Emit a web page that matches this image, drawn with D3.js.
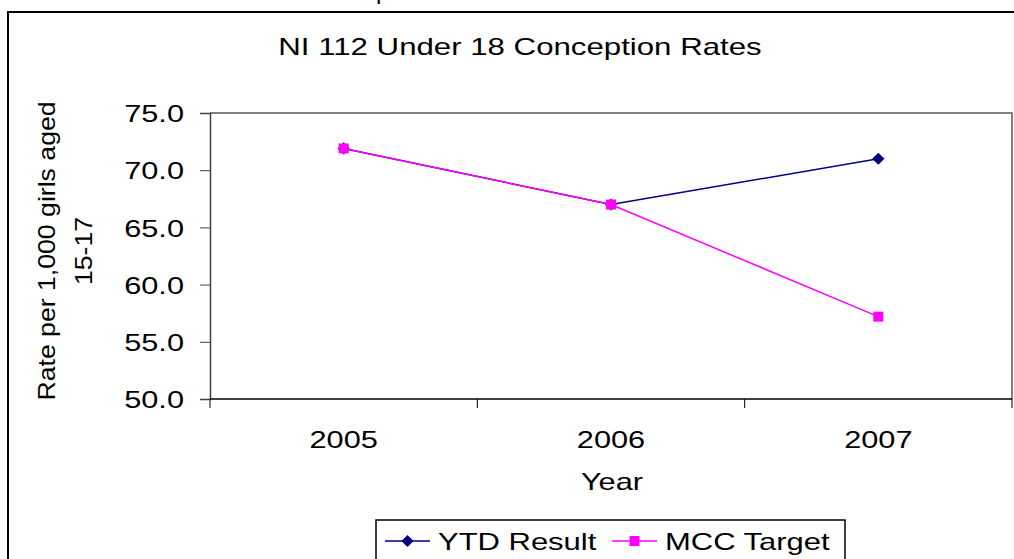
<!DOCTYPE html>
<html>
<head>
<meta charset="utf-8">
<script src="https://cdn.jsdelivr.net/npm/d3@7"></script>
<style>
  body { margin: 0; background: #fff; }
  text { font-family: "Liberation Sans", Arial, sans-serif; fill: #000; }
</style>
</head>
<body>
<div id="chart"></div>
<script>
// Chart data
var years = ["2005", "2006", "2007"];
var ytdResult = [71.9, 67.0, 71.0];
var mccTarget = [71.9, 67.0, 57.2];
var yTicks = [50, 55, 60, 65, 70, 75];
var seriesNames = ["YTD Result", "MCC Target"];

var svgWidth = 1014;
var svgHeight = 559;

// plot area in page pixels
var plot = { left: 210, top: 113, right: 1012, bottom: 399 };

// text in the picture is wider than plain Arial
var stretch = 1.28;

var svg = d3.select("#chart")
  .append("svg")
  .attr("width", svgWidth)
  .attr("height", svgHeight);

function widen(sel, k) {
  sel.each(function() {
    var len = this.getComputedTextLength();
    d3.select(this)
      .attr("textLength", len * (k || stretch))
      .attr("lengthAdjust", "spacingAndGlyphs");
  });
}

// cut-off glyph from text above the chart (clipped in the original too)
svg.append("text")
  .attr("x", 376)
  .attr("y", -1)
  .style("font-size", "24px")
  .text("p");

// outer frame
svg.append("rect")
  .attr("x", 8)
  .attr("y", 12)
  .attr("width", 1100)
  .attr("height", 600)
  .attr("fill", "none")
  .attr("stroke", "#000")
  .attr("stroke-width", 2);

// title
svg.append("text")
  .attr("x", 520)
  .attr("y", 55)
  .attr("text-anchor", "middle")
  .style("font-size", "24px")
  .text("NI 112 Under 18 Conception Rates")
  .call(widen, 1.3);

// scales
var x = d3.scaleBand()
  .domain(years)
  .range([plot.left, plot.right]);

var y = d3.scaleLinear()
  .domain([50, 75])
  .range([plot.bottom, plot.top]);

// plot frame: top and right edges in grey
svg.append("path")
  .attr("d", `M${plot.left},${plot.top}H${plot.right}V${plot.bottom}`)
  .attr("fill", "none")
  .attr("stroke", "#808080")
  .attr("stroke-width", 2);

// y axis
var yAxis = svg.append("g")
  .attr("transform", `translate(${plot.left},0)`)
  .call(d3.axisLeft(y)
    .tickValues(yTicks)
    .tickFormat(d3.format(".1f"))
    .tickSize(10)
    .tickPadding(16));
yAxis.select(".domain").attr("stroke", "#404040").attr("stroke-width", 1.5);
yAxis.selectAll(".tick line").attr("stroke", "#404040");
yAxis.selectAll("text")
  .attr("fill", "#000")
  .attr("dy", "0.36em")
  .style("font-size", "24px")
  .style("font-family", "Liberation Sans, Arial, sans-serif")
  .call(widen);

// x axis: ticks on band edges, labels at band centres
var xAxis = svg.append("g")
  .attr("transform", `translate(0,${plot.bottom})`);
xAxis.append("line")
  .attr("x1", plot.left)
  .attr("x2", plot.right)
  .attr("stroke", "#000")
  .attr("stroke-width", 1.5);
var edges = years.map(d => x(d)).concat([x(years[years.length - 1]) + x.bandwidth()]);
xAxis.selectAll(".edge")
  .data(edges)
  .enter()
  .append("line")
  .attr("class", "edge")
  .attr("x1", d => d)
  .attr("x2", d => d)
  .attr("y1", 0)
  .attr("y2", 9)
  .attr("stroke", "#000");
xAxis.selectAll(".label")
  .data(years)
  .enter()
  .append("text")
  .attr("class", "label")
  .attr("x", d => x(d) + x.bandwidth() / 2)
  .attr("y", 49)
  .attr("text-anchor", "middle")
  .style("font-size", "24px")
  .text(d => d)
  .call(widen);

// axis titles
svg.append("text")
  .attr("x", 612)
  .attr("y", 490)
  .attr("text-anchor", "middle")
  .style("font-size", "24px")
  .text("Year")
  .call(widen);

var yTitle = svg.append("g")
  .attr("transform", "translate(0,251) rotate(-90)");
yTitle.append("text")
  .attr("x", 0)
  .attr("y", 55)
  .attr("text-anchor", "middle")
  .style("font-size", "24px")
  .text("Rate per 1,000 girls aged")
  .call(widen, 1.11);
yTitle.append("text")
  .attr("x", 0)
  .attr("y", 92)
  .attr("text-anchor", "middle")
  .style("font-size", "24px")
  .text("15-17")
  .call(widen, 1.11);

// lines and markers
var cx = d => x(d) + x.bandwidth() / 2;
var line = d3.line()
  .x(d => cx(d.year))
  .y(d => y(d.value));

var ytdData = years.map((d, i) => ({ year: d, value: ytdResult[i] }));
var mccData = years.map((d, i) => ({ year: d, value: mccTarget[i] }));

var navy = "#000080";
var magenta = "#FF00FF";
var diamond = d3.symbol().type(d3.symbolDiamond2).size(95);
var sq = 10;

svg.append("path")
  .datum(ytdData)
  .attr("d", line)
  .attr("fill", "none")
  .attr("stroke", navy)
  .attr("stroke-width", 1.5);
svg.selectAll(".ytd")
  .data(ytdData)
  .enter()
  .append("path")
  .attr("class", "ytd")
  .attr("transform", d => `translate(${cx(d.year)},${y(d.value)})`)
  .attr("d", diamond)
  .attr("fill", navy);

svg.append("path")
  .datum(mccData)
  .attr("d", line)
  .attr("fill", "none")
  .attr("stroke", magenta)
  .attr("stroke-width", 1.5);
svg.selectAll(".mcc")
  .data(mccData)
  .enter()
  .append("rect")
  .attr("class", "mcc")
  .attr("x", d => cx(d.year) - sq / 2)
  .attr("y", d => y(d.value) - sq / 2)
  .attr("width", sq)
  .attr("height", sq)
  .attr("fill", magenta);

// legend
var legend = svg.append("g");
legend.append("rect")
  .attr("x", 376)
  .attr("y", 520)
  .attr("width", 469)
  .attr("height", 60)
  .attr("fill", "#fff")
  .attr("stroke", "#000")
  .attr("stroke-width", 1.5);

var legendItems = [
  { name: seriesNames[0], color: navy, x: 385, type: "diamond" },
  { name: seriesNames[1], color: magenta, x: 612, type: "square" }
];
legendItems.forEach(function(item) {
  var g = legend.append("g").attr("transform", `translate(${item.x},541)`);
  g.append("line")
    .attr("x1", 0)
    .attr("x2", 45)
    .attr("stroke", item.color)
    .attr("stroke-width", 1.5);
  if (item.type === "diamond") {
    g.append("path")
      .attr("transform", "translate(22.5,0)")
      .attr("d", diamond)
      .attr("fill", item.color);
  } else {
    g.append("rect")
      .attr("x", 22.5 - sq / 2)
      .attr("y", -sq / 2)
      .attr("width", sq)
      .attr("height", sq)
      .attr("fill", item.color);
  }
  g.append("text")
    .attr("x", 53)
    .attr("y", 9)
    .style("font-size", "24px")
    .text(item.name)
    .call(widen, 1.29);
});
</script>
</body>
</html>
